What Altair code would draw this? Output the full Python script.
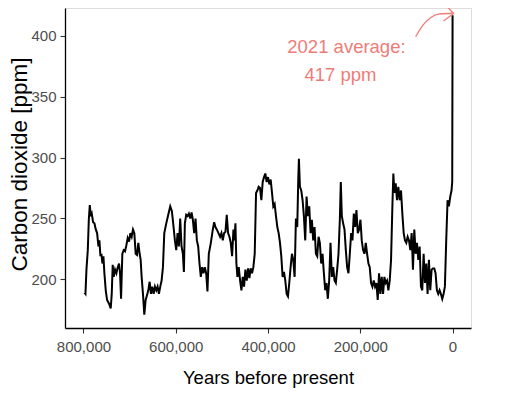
import altair as alt
import pandas as pd

# Years before present (thousands of years) and CO2 (ppm)
years_kyr = [
    797.8, 795.7, 793.5, 790.6, 788.4, 786.3, 784.1, 782.0, 779.1, 776.2,
    773.3, 770.4, 767.5, 765.4, 763.2, 761.1, 758.9, 756.7, 754.6, 751.7,
    748.8, 744.5, 740.9, 738.7, 736.6, 734.4, 731.5, 728.6, 725.7, 722.9,
    720.7, 718.5, 715.7, 712.8, 709.9, 707.0, 704.1, 701.2, 698.4, 695.5,
    692.6, 689.7, 686.8, 683.9, 681.1, 678.2, 676.0, 673.9, 671.0, 668.1,
    665.2, 662.3, 659.4, 656.6, 653.7, 650.8, 647.9, 645.0, 642.1, 639.3,
    636.4, 633.5, 630.6, 627.7, 624.8, 620.5, 616.2, 611.9, 608.3, 604.7,
    601.8, 598.9, 596.0, 593.1, 590.3, 587.4, 584.5, 582.3, 580.2, 577.3,
    574.4, 571.5, 568.6, 565.7, 562.9, 560.0, 557.1, 554.2, 551.3, 548.5,
    545.6, 542.7, 539.8, 536.9, 534.0, 531.2, 528.3, 523.9, 519.6, 516.7,
    513.9, 511.0, 507.4, 503.8, 500.9, 498.0, 495.1, 492.2, 489.4, 486.5,
    483.6, 480.7, 477.8, 474.9, 472.8, 470.6, 468.5, 466.3, 463.4, 460.5,
    457.6, 454.8, 451.9, 449.0, 446.1, 443.2, 440.3, 437.5, 434.6, 431.7,
    428.8, 425.9, 423.1, 420.2, 417.3, 414.4, 411.5, 408.6, 405.8, 402.9,
    400.0, 397.1, 394.2, 391.3, 388.5, 385.6, 382.7, 379.8, 376.9, 374.0,
    371.2, 368.3, 365.4, 362.5, 359.6, 356.7, 353.9, 351.0, 348.1, 345.2,
    342.3, 339.5, 336.6, 334.4, 333.0, 330.8, 327.9, 325.0, 322.2, 319.3,
    316.4, 313.5, 310.6, 307.7, 304.9, 302.0, 299.1, 296.2, 293.3, 290.4,
    287.6, 284.7, 281.8, 278.9, 276.0, 273.2, 270.3, 267.4, 264.5, 261.6,
    258.7, 255.8, 253.0, 250.1, 247.2, 244.3, 242.2, 240.0, 237.1, 234.2,
    231.3, 228.5, 225.6, 222.7, 219.8, 216.9, 214.0, 211.2, 208.3, 205.4,
    202.5, 199.6, 196.8, 193.9, 191.0, 188.1, 185.2, 182.3, 179.5, 176.6,
    173.7, 170.8, 167.9, 165.0, 162.2, 159.3, 156.4, 153.5, 150.6, 147.7,
    144.9, 142.0, 139.1, 136.2, 133.3, 130.4, 128.3, 126.1, 123.2, 120.4,
    117.5, 114.6, 111.7, 108.8, 105.9, 103.1, 100.2, 97.3, 94.4, 91.5,
    88.6, 85.8, 82.9, 80.0, 77.1, 74.2, 71.3, 68.5, 65.6, 62.7,
    59.8, 56.9, 54.1, 51.2, 48.3, 45.4, 42.5, 39.6, 36.8, 33.9,
    31.0, 28.1, 25.2, 22.3, 19.5, 16.6, 13.7, 10.8, 7.9, 5.0,
    2.2, 0.7, -0.071,
]
co2_ppm = [
    189, 188, 208, 224, 249, 261, 252, 254, 247, 246,
    241, 238, 227, 232, 219, 221, 213, 219, 205, 191,
    183, 180, 176, 188, 212, 202, 208, 205, 210, 213,
    205, 184, 221, 224, 223, 228, 234, 231, 238, 235,
    241, 238, 221, 220, 230, 221, 216, 202, 188, 171,
    183, 187, 191, 198, 188, 194, 188, 194, 191, 194,
    188, 194, 199, 210, 238, 246, 253, 260, 256, 243,
    232, 224, 238, 227, 250, 227, 221, 206, 246, 253,
    252, 254, 250, 255, 249, 238, 250, 232, 227, 213,
    202, 210, 205, 210, 205, 190, 221, 230, 241, 247,
    243, 241, 238, 235, 238, 232, 238, 239, 253, 238,
    235, 230, 219, 241, 232, 246, 213, 202, 210, 199,
    191, 202, 194, 208, 199, 209, 201, 209, 205, 210,
    221, 271, 273, 276, 275, 265, 280, 284, 287, 280,
    284, 278, 282, 271, 260, 262, 252, 243, 238, 230,
    219, 202, 206, 199, 188, 186, 197, 210, 221, 216,
    202, 250, 243, 282, 299, 276, 273, 265, 252, 232,
    268, 252, 260, 238, 249, 232, 243, 221, 219, 235,
    230, 213, 221, 205, 191, 197, 184, 199, 230, 202,
    210, 199, 197, 208, 221, 249, 280, 252, 246, 241,
    224, 210, 205, 221, 238, 232, 254, 243, 257, 238,
    241, 249, 232, 224, 221, 230, 221, 213, 210, 197,
    194, 199, 194, 197, 183, 205, 188, 202, 188, 202,
    197, 199, 191, 199, 216, 260, 287, 271, 279, 265,
    276, 265, 273, 254, 238, 232, 230, 235, 232, 224,
    238, 208, 241, 221, 230, 216, 227, 194, 191, 221,
    197, 213, 188, 216, 191, 208, 209, 209, 205, 191,
    188, 191, 188, 184, 188, 194, 232, 265, 260, 268,
    273, 280, 417,
]

# Axis ticks
x_ticks = [0, 200000, 400000, 600000, 800000]
y_ticks = [200, 250, 300, 350, 400]

# Annotation (data units)
label_lines = ["2021 average:", "417 ppm"]
label_year = [230000, 243000]
label_ppm = [386.3, 363.0]

arrow_year = [80000, 64200, 46100, 28100, -600]
arrow_ppm = [399.4, 409.0, 415.4, 418.1, 418.7]
head_year = [15100, -2200, 19500]
head_ppm = [425.5, 418.5, 412.3]

SALMON = "#F07C78"
FONT = "Liberation Sans, Arial, Helvetica, sans-serif"

df = pd.DataFrame({
    "year": [k * 1000 for k in years_kyr],
    "co2": co2_ppm,
    "idx": list(range(len(co2_ppm))),
})
lab = pd.DataFrame({"text": label_lines, "year": label_year, "co2": label_ppm})
arr = pd.DataFrame({"year": arrow_year, "co2": arrow_ppm, "idx": list(range(len(arrow_year)))})
head = pd.DataFrame({"year": head_year, "co2": head_ppm, "idx": list(range(len(head_year)))})

xscale = alt.Scale(domain=[-40000, 840000], reverse=True, nice=False, zero=False)
yscale = alt.Scale(domain=[160, 423], nice=False, zero=False)

xaxis = alt.Axis(
    values=x_ticks, labelExpr="format(datum.value, ',')", title="Years before present", grid=False,
    labelFont=FONT, labelFontSize=15, labelColor="#4D4D4D", labelPadding=6,
    tickColor="#333333", tickSize=5, tickWidth=1.1,
    domainColor="black", domainWidth=1.3,
    titleFont=FONT, titleFontSize=18.5, titleFontWeight="normal", titleColor="black",
    titleBaseline="alphabetic", titleY=55,
)
yaxis = alt.Axis(
    values=y_ticks, title="Carbon dioxide [ppm]", grid=False,
    labelFont=FONT, labelFontSize=15, labelColor="#4D4D4D", labelPadding=4,
    tickColor="#333333", tickSize=5, tickWidth=1.1,
    domainColor="black", domainWidth=1.3,
    titleFont=FONT, titleFontSize=22.5, titleFontWeight="normal", titleColor="black",
    titleAngle=270, titleBaseline="alphabetic", titleAlign="center", titleX=-39, titleY=156,
)

X = alt.X("year:Q", scale=xscale, axis=xaxis)
Y = alt.Y("co2:Q", scale=yscale, axis=yaxis)

line = alt.Chart(df).mark_line(color="black", strokeWidth=2, clip=False).encode(
    x=X, y=Y, order="idx:Q",
)

text = alt.Chart(lab).mark_text(
    font=FONT, fontSize=18.5, color=SALMON, align="center", baseline="alphabetic"
).encode(x=X, y=Y, text="text:N")

arrow = alt.Chart(arr).mark_line(
    color=SALMON, strokeWidth=1.3, interpolate="monotone", clip=False
).encode(x=X, y=Y, order="idx:Q")

arrow_head = alt.Chart(head).mark_line(
    color=SALMON, strokeWidth=1.3, clip=False
).encode(x=X, y=Y, order="idx:Q")

chart = alt.layer(line, arrow, arrow_head, text).properties(
    width=406, height=320,
    autosize=alt.AutoSizeParams(type="none"),
    padding={"left": 57, "top": 0, "right": 30, "bottom": 66},
).configure_view(stroke=None).configure(background="white")

chart.save("out.html", embed_options={"renderer": "svg", "actions": False})
